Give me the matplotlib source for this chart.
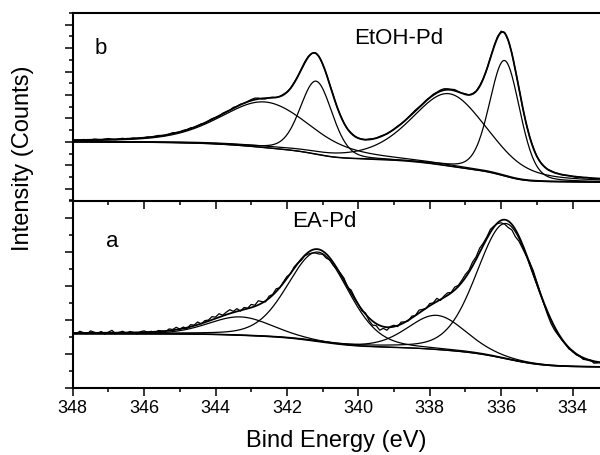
import numpy as np
import matplotlib
matplotlib.use("Agg")
import matplotlib.pyplot as plt
from matplotlib.ticker import MultipleLocator

plt.rcParams['font.family'] = ['Liberation Sans', 'DejaVu Sans']

# energy grid of the measured points (eV), 348.0 -> 333.2 in 0.1 steps
energy = np.round(np.arange(348.0, 333.15, -0.1), 2)

# fitted components: centre (eV), height, FWHM (eV), lorentzian fraction
peaks_b = [(335.90, 4.93, 1.00, 0.2),
           (337.45, 3.09, 2.50, 0.4),
           (341.18, 3.12, 1.05, 0.2),
           (342.60, 1.95, 3.00, 0.4)]
peaks_a = [(335.85, 3.96, 1.95, 0.2),
           (337.80, 1.00, 1.90, 0.2),
           (341.12, 2.62, 2.00, 0.2),
           (343.30, 0.54, 2.10, 0.2)]

# background level at the high / low binding energy ends
bg_b = (2.00, 0.28)
bg_a = (1.60, 0.63)

# measured minus fit (x0.01) at each point of the energy grid
resid_b = [-2, 1, -1, 2, 0, -1, 3, 1, -1, 2,
           4, 0, -2, 1, 3, -1, 0, 2, -1, 1,
           0, 2, -1, 1, 3, 0, -2, 1, 4, 1,
           -1, 2, 0, 3, -1, 1, 2, -2, 1, 3,
           0, -2, 2, 1, -1, 3, 0, 2, -1, 1,
           4, 6, 3, -3, -4, 1, 2, -1, 0, 2,
           1, -1, 2, 0, 1, 3, 2, -1, 1, 0,
           -2, 1, 0, 2, -1, 1, 0, -1, 2, 1,
           0, 1, -1, 2, 1, 0, 2, 1, -1, 0,
           1, 2, 0, -1, 1, 2, 3, 1, 0, 2,
           1, 3, 2, 4, 5, 3, 2, 4, 1, 0,
           2, -1, 1, 0, 2, 1, -1, 0, 2, 3,
           4, 1, -2, 0, -1, 1, -2, -1, 0, 1,
           -1, 0, 1, -1, 2, 0, 1, -1, 0, 1,
           -1, -3, 0, -2, 1, -1, -3, -1, 0]
resid_a = [3, -2, 5, 1, -3, 6, 2, -1, 4, -4,
           2, 7, -3, 1, 4, -2, 3, 0, -5, 2,
           4, -1, 2, -3, 3, 1, -2, 5, 2, 7,
           0, 4, -3, 6, 2, 8, -1, 5, 3, 9,
           4, 10, 2, 7, 11, 3, 8, -2, 6, 1,
           9, 3, 12, 4, -3, 6, 2, 8, -1, 3,
           5, -2, 4, 1, -4, -2, -6, -9, -12, -14,
           -10, -13, -7, -9, -3, 2, 6, -2, 8, 4,
           1, -4, 3, -8, -12, -6, -14, -5, -9, 2,
           4, -3, 6, 1, -2, 5, 0, 8, 3, -1,
           6, 2, 9, -3, 4, 7, 1, 8, 3, 6,
           9, 5, 11, 7, 12, 6, 4, 8, 2, -3,
           -8, -14, -20, -17, -22, -15, -12, -6, 3, 8,
           5, 2, -4, -9, -12, -10, -6, -3, -1, -4,
           1, -3, 0, -5, -2, 1, -6, -3, 2]


def pv(x, c, h, w, eta):
    t = 4 * ((x - c) / w) ** 2
    return h * (eta / (1 + t) + (1 - eta) * np.exp(-np.log(2) * t))


def fit(x, peaks, bg):
    comps = [pv(x, *p) for p in peaks]
    tot = np.sum(comps, axis=0)
    # shirley-type background, x runs from high to low BE
    cum = np.cumsum(tot[::-1])[::-1]
    back = bg[1] + (bg[0] - bg[1]) * cum / cum[0]
    return comps, back


fig = plt.figure(figsize=(6, 4.55), dpi=100)
ax_a = fig.add_axes([0.1212, 0.1462, 0.8788, 0.4132])
ax_b = fig.add_axes([0.1212, 0.5593, 0.8788, 0.4121])
ax_b.set_zorder(3)
ax_b.patch.set_alpha(0)

xf = np.linspace(348.0, 333.2, 741)

for ax, peaks, bg, resid in [(ax_b, peaks_b, bg_b, resid_b),
                             (ax_a, peaks_a, bg_a, resid_a)]:
    comps, back = fit(xf, peaks, bg)
    ax.plot(xf, back, color='black', lw=0.9)
    for c in comps:
        ax.plot(xf, back + c, color='black', lw=0.9)
    ax.plot(xf, back + np.sum(comps, axis=0), color='black', lw=1.3)
    dc, dback = fit(energy, peaks, bg)
    meas = dback + np.sum(dc, axis=0) + np.array(resid) / 100.0
    ax.plot(energy, meas, color='black', lw=0.9)

    ax.set_xlim(348, 333.23)
    ax.xaxis.set_major_locator(MultipleLocator(2))
    ax.xaxis.set_minor_locator(MultipleLocator(1))
    ax.yaxis.set_major_locator(MultipleLocator(1))
    ax.yaxis.set_minor_locator(MultipleLocator(0.5))
    ax.spines['right'].set_visible(False)
    for s in ['left', 'top', 'bottom']:
        ax.spines[s].set_linewidth(1.5)
    ax.tick_params(which='major', direction='out', length=5.5, width=1.1)
    ax.tick_params(which='minor', direction='out', length=3.2, width=1.1)
    ax.tick_params(axis='y', labelleft=False)
    ax.tick_params(axis='x', labelsize=13, pad=3)

ax_b.set_ylim(-0.5, 7.5)
ax_a.set_ylim(0, 5.5)
ax_b.tick_params(axis='x', which='both', labelbottom=False)
ax_a.spines['top'].set_visible(False)

fig.text(101 / 600, 1 - 48 / 455, 'b', fontsize=16, ha='center', va='center')
fig.text(399 / 600, 1 - 38 / 455, 'EtOH-Pd', fontsize=16, ha='center', va='center')
fig.text(112.5 / 600, 1 - 241.5 / 455, 'a', fontsize=16, ha='center', va='center')
fig.text(324 / 600, 1 - 221 / 455, 'EA-Pd', fontsize=16, ha='center', va='center')

ax_a.set_xlabel('Bind Energy (eV)', fontsize=17, labelpad=9)
fig.text(23 / 600, 1 - 158 / 455, 'Intensity (Counts)', fontsize=17,
         rotation=90, ha='center', va='center')

fig.savefig('out.png', dpi=100)
